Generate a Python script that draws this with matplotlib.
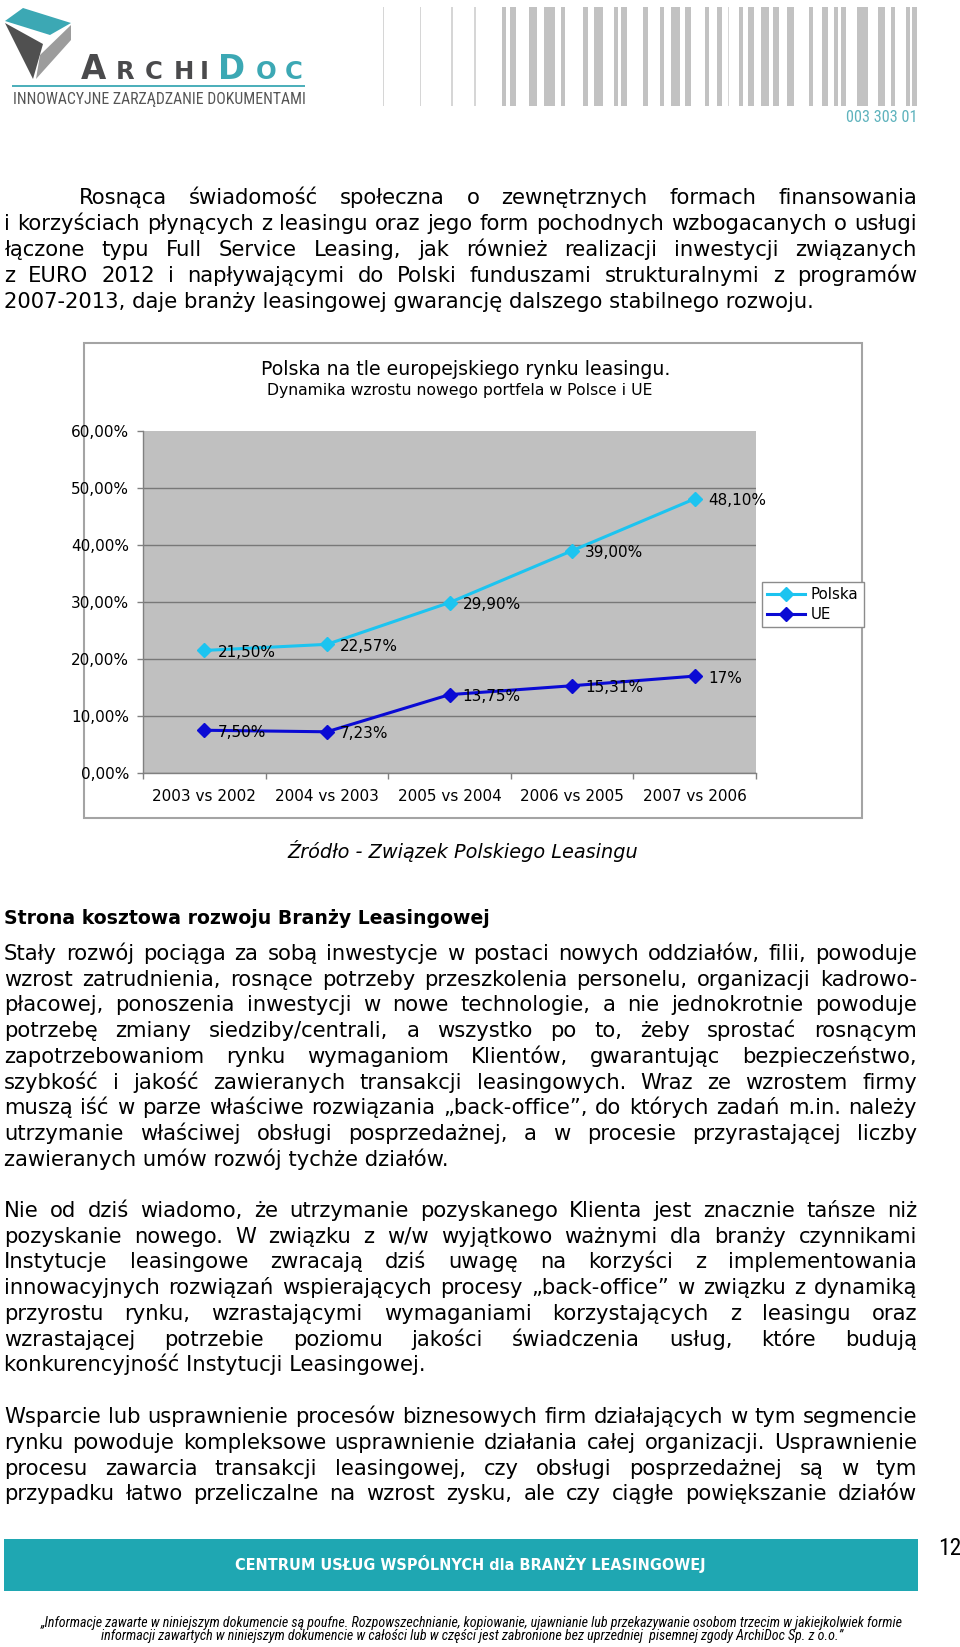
import numpy as np
import matplotlib
matplotlib.use('Agg')
import matplotlib.pyplot as plt
from matplotlib.font_manager import FontProperties, fontManager
from matplotlib.patches import Rectangle, Polygon
from matplotlib.lines import Line2D

# ---------------- data ----------------
categories = ['2003 vs 2002', '2004 vs 2003', '2005 vs 2004', '2006 vs 2005', '2007 vs 2006']
polska = [21.50, 22.57, 29.90, 39.00, 48.10]
ue = [7.50, 7.23, 13.75, 15.31, 17.00]
polska_labels = ['21,50%', '22,57%', '29,90%', '39,00%', '48,10%']
ue_labels = ['7,50%', '7,23%', '13,75%', '15,31%', '17%']
y_ticks = [0, 10, 20, 30, 40, 50, 60]
y_tick_labels = ['0,00%', '10,00%', '20,00%', '30,00%', '40,00%', '50,00%', '60,00%']
series_names = ['Polska', 'UE']
chart_title = 'Polska na tle europejskiego rynku leasingu.'
chart_subtitle = 'Dynamika wzrostu nowego portfela w Polsce i UE'
source_text = 'Źródło - Związek Polskiego Leasingu'
heading_text = 'Strona kosztowa rozwoju Branży Leasingowej'

para1 = [
    'Rosnąca świadomość społeczna o zewnętrznych formach finansowania',
    'i korzyściach płynących z leasingu oraz jego form pochodnych wzbogacanych o usługi',
    'łączone typu Full Service Leasing, jak również realizacji inwestycji związanych',
    'z EURO 2012 i napływającymi do Polski funduszami strukturalnymi z programów',
    '2007-2013, daje branży leasingowej gwarancję dalszego stabilnego rozwoju.',
]
para2 = [
    'Stały rozwój pociąga za sobą inwestycje w postaci nowych oddziałów, filii, powoduje',
    'wzrost zatrudnienia, rosnące potrzeby przeszkolenia personelu, organizacji kadrowo-',
    'płacowej, ponoszenia inwestycji w nowe technologie, a nie jednokrotnie powoduje',
    'potrzebę zmiany siedziby/centrali, a wszystko po to, żeby sprostać rosnącym',
    'zapotrzebowaniom rynku wymaganiom Klientów, gwarantując bezpieczeństwo,',
    'szybkość i jakość zawieranych transakcji leasingowych. Wraz ze wzrostem firmy',
    'muszą iść w parze właściwe rozwiązania „back-office”, do których zadań m.in. należy',
    'utrzymanie właściwej obsługi posprzedażnej, a w procesie przyrastającej liczby',
    'zawieranych umów rozwój tychże działów.',
]
para3 = [
    'Nie od dziś wiadomo, że utrzymanie pozyskanego Klienta jest znacznie tańsze niż',
    'pozyskanie nowego. W związku z w/w wyjątkowo ważnymi dla branży czynnikami',
    'Instytucje leasingowe zwracają dziś uwagę na korzyści z implementowania',
    'innowacyjnych rozwiązań wspierających procesy „back-office” w związku z dynamiką',
    'przyrostu rynku, wzrastającymi wymaganiami korzystających z leasingu oraz',
    'wzrastającej potrzebie poziomu jakości świadczenia usług, które budują',
    'konkurencyjność Instytucji Leasingowej.',
]
para4 = [
    'Wsparcie lub usprawnienie procesów biznesowych firm działających w tym segmencie',
    'rynku powoduje kompleksowe usprawnienie działania całej organizacji. Usprawnienie',
    'procesu zawarcia transakcji leasingowej, czy obsługi posprzedażnej są w tym',
    'przypadku łatwo przeliczalne na wzrost zysku, ale czy ciągłe powiększanie działów',
]
logo_sub = 'INNOWACYJNE ZARZĄDZANIE DOKUMENTAMI'
barcode_number = '003 303 01'
footer_bar_text = 'CENTRUM USŁUG WSPÓLNYCH dla BRANŻY LEASINGOWEJ'
footer_lines = [
    '„Informacje zawarte w niniejszym dokumencie są poufne. Rozpowszechnianie, kopiowanie, ujawnianie lub przekazywanie osobom trzecim w jakiejkolwiek formie',
    'informacji zawartych w niniejszym dokumencie w całości lub w części jest zabronione bez uprzedniej  pisemnej zgody ArchiDoc Sp. z o.o.”',
]
page_number = '12'

# ---------------- style ----------------
PL_C = '#1CC4F0'
UE_C = '#0A0AD4'
TEAL = '#1FA7B2'
LOGO_TEAL = '#3CA8B4'
DARK = '#4A4A4C'
BODY = 'DejaVu Sans'
plt.rcParams['font.family'] = ['DejaVu Sans']

names = {f.name for f in fontManager.ttflist}
NARROW = 'DejaVu Sans'
for cand in ['Liberation Sans Narrow', 'Roboto Condensed', 'Open Sans Condensed']:
    if cand in names:
        NARROW = cand
        break

W, H = 960, 1647
fig = plt.figure(figsize=(W / 100, H / 100), dpi=100)
page = fig.add_axes([0, 0, 1, 1])
page.set_xlim(0, W)
page.set_ylim(H, 0)
page.axis('off')
renderer = fig.canvas.get_renderer()


def fp(size, family=BODY, weight='normal', style='normal'):
    return FontProperties(family=family, size=size, weight=weight, style=style)


def tw(s, prop):
    return renderer.get_text_width_height_descent(s, prop, ismath=False)[0]


def fit(s, target, family=BODY, weight='normal', style='normal'):
    return 10.0 * target / tw(s, fp(10, family, weight, style))


def line(s, y, x0, x1, prop, justify=True, color='black'):
    words = s.split()
    if not justify or len(words) < 2:
        page.text(x0, y, s, fontproperties=prop, ha='left', va='baseline', color=color)
        return
    ws = [tw(w, prop) for w in words]
    gap = (x1 - x0 - sum(ws)) / (len(words) - 1)
    x = x0
    for w, wd in zip(words, ws):
        page.text(x, y, w, fontproperties=prop, ha='left', va='baseline', color=color)
        x += wd + gap


# ---------------- logo ----------------
page.add_patch(Polygon([(5, 21), (23, 8), (71, 23), (50, 35)], closed=True, fc=LOGO_TEAL, ec='none'))
page.add_patch(Polygon([(5, 23), (43, 44), (33, 79)], closed=True, fc='#505050', ec='none'))
page.add_patch(Polygon([(40, 55), (71, 25), (71, 40), (36, 79)], closed=True, fc='#9C9C9C', ec='none'))
letters = [(77, 110, 'A', 23.5, DARK), (113, 138, 'R', 17.5, DARK), (140, 167, 'C', 17.5, DARK),
           (170, 197, 'H', 17.5, DARK), (200, 208, 'I', 17.5, DARK), (215, 248, 'D', 23.5, LOGO_TEAL),
           (252, 280, 'O', 17.5, LOGO_TEAL), (283, 305, 'C', 17.5, LOGO_TEAL)]
for a, b, ch, sz, col in letters:
    page.text((a + b) / 2, 79, ch, fontproperties=fp(sz, weight='bold'), ha='center', va='baseline', color=col)
page.plot([12, 305], [86, 86], color=LOGO_TEAL, lw=1.3, solid_capstyle='butt')
page.text(13, 104, logo_sub, fontproperties=fp(fit(logo_sub, 292, NARROW), NARROW), ha='left', va='baseline', color='#555555')

bars = [(383, 384), (420, 421), (451, 452.5), (474, 475.5), (502, 506), (510, 516), (529, 537), (544, 555),
        (561, 565), (583, 588), (594, 603), (614, 618), (621, 627), (643, 648), (660, 664), (671, 680),
        (685, 691), (705, 709), (717, 722), (728, 729), (739, 743), (748, 754), (761, 769), (773, 779),
        (787, 794), (809, 813), (822, 828), (834, 838), (841, 846), (857, 868), (878, 885), (891, 895),
        (906, 910), (912, 917)]
for a, b in bars:
    col = '#D6D6D6' if b - a < 2 else '#C2C2C2'
    page.add_patch(Rectangle((a, 7), b - a, 99, fc=col, ec='none'))
page.text(918, 122, barcode_number, fontproperties=fp(fit(barcode_number, 71, NARROW), NARROW),
          ha='right', va='baseline', color='#5FB3BD')

# ---------------- body text ----------------
LEFT, RIGHT = 4, 917
p10 = fp(10)
nat1 = max([tw(para1[0], p10) + 0] + [tw(s, p10) for s in para1[1:4]])
s1 = 10.0 * 912 / nat1
nat2 = max(tw(s, p10) for s in para2[:-1] + para3[:-1] + para4)
s2 = 10.0 * 914 / nat2
P1 = fp(s1)
P2 = fp(s2)

for i, s in enumerate(para1):
    y = 204 + i * 26.0
    x0 = 79 if i == 0 else LEFT
    line(s, y, x0, RIGHT, P1, justify=(i < len(para1) - 1))

page.text(287, 858, source_text, fontproperties=fp(fit(source_text, 350, style='italic'), style='italic'),
          ha='left', va='baseline')
page.text(LEFT, 924, heading_text, fontproperties=fp(fit(heading_text, 487, weight='bold'), weight='bold'),
          ha='left', va='baseline')

for i, s in enumerate(para2):
    line(s, 960 + i * 25.74, LEFT, RIGHT, P2, justify=(i < len(para2) - 1))
for i, s in enumerate(para3):
    line(s, 1217 + i * 25.7, LEFT, RIGHT, P2, justify=(i < len(para3) - 1))
for i, s in enumerate(para4):
    line(s, 1423 + i * 25.8, LEFT, RIGHT, P2, justify=True)

# ---------------- chart ----------------
page.add_patch(Rectangle((84, 343), 778, 475, fc='white', ec='#A4A4A4', lw=1.5))
page.text(261, 375, chart_title, fontproperties=fp(13.6), ha='left', va='baseline')
page.text(267, 395, chart_subtitle, fontproperties=fp(fit(chart_subtitle, 385)), ha='left', va='baseline')

ax = fig.add_axes([143 / W, 1 - 773 / H, 613 / W, 342 / H])
ax.set_facecolor('#C0C0C0')
xs = np.arange(len(categories)) + 0.5
ax.plot(xs, polska, color=PL_C, lw=2.2, marker='D', ms=7.5, zorder=3, label=series_names[0])
ax.plot(xs, ue, color=UE_C, lw=2.2, marker='D', ms=7.5, zorder=3, label=series_names[1])
ax.set_xlim(0, len(categories))
ax.set_ylim(0, 60)
ax.set_yticks(y_ticks)
ax.set_yticklabels(y_tick_labels)
ax.yaxis.grid(True, color='#787878', lw=1)
ax.set_axisbelow(True)
ax.yaxis.get_gridlines()[-1].set_visible(False)
ax.set_xticks(np.arange(len(categories) + 1))
ax.set_xticklabels([])
ax.set_xticks(xs, minor=True)
ax.set_xticklabels(categories, minor=True)
ax.tick_params(axis='x', which='major', length=4, width=1, color='#808080', direction='out')
ax.tick_params(axis='x', which='minor', length=0, pad=11.5, labelsize=11)
ax.tick_params(axis='y', length=4, width=1, pad=6, color='#808080', labelsize=11)
for sp in ['top', 'right']:
    ax.spines[sp].set_visible(False)
for sp in ['left', 'bottom']:
    ax.spines[sp].set_color('#808080')
    ax.spines[sp].set_linewidth(1)

for xi, v, lab in zip(xs, polska, polska_labels):
    ax.annotate(lab, (xi, v), xytext=(9.5, -1.5), textcoords='offset points', ha='left', va='center', fontsize=11)
for xi, v, lab in zip(xs, ue, ue_labels):
    ax.annotate(lab, (xi, v), xytext=(9.5, -1.5), textcoords='offset points', ha='left', va='center', fontsize=11)

handles = [Line2D([], [], color=PL_C, lw=2.2, marker='D', ms=7),
           Line2D([], [], color=UE_C, lw=2.2, marker='D', ms=7)]
leg = ax.legend(handles, series_names, loc='upper left', bbox_to_anchor=(762 / W, 1 - 582 / H),
                bbox_transform=fig.transFigure, frameon=True, fancybox=False, edgecolor='#8C8C8C',
                borderpad=0.35, handlelength=2.5, handletextpad=0.4, labelspacing=0.3,
                fontsize=10.8, borderaxespad=0)
leg.get_frame().set_linewidth(1)
leg.get_frame().set_alpha(1)

# ---------------- footer ----------------
page.add_patch(Rectangle((4, 1539), 914, 52, fc=TEAL, ec='none'))
page.text(470, 1570, footer_bar_text, fontproperties=fp(fit(footer_bar_text, 470, weight='bold'), weight='bold'),
          ha='center', va='baseline', color='white')
page.text(938, 1555, page_number, fontproperties=fp(fit(page_number, 23, NARROW), NARROW), ha='left', va='baseline')
fsz = fit(footer_lines[0], 861, NARROW, style='italic')
page.text(472, 1627, footer_lines[0], fontproperties=fp(fsz, NARROW, style='italic'), ha='center', va='baseline')
page.text(472, 1640, footer_lines[1], fontproperties=fp(fsz, NARROW, style='italic'), ha='center', va='baseline')

fig.savefig('out.png', dpi=100, facecolor='white')
